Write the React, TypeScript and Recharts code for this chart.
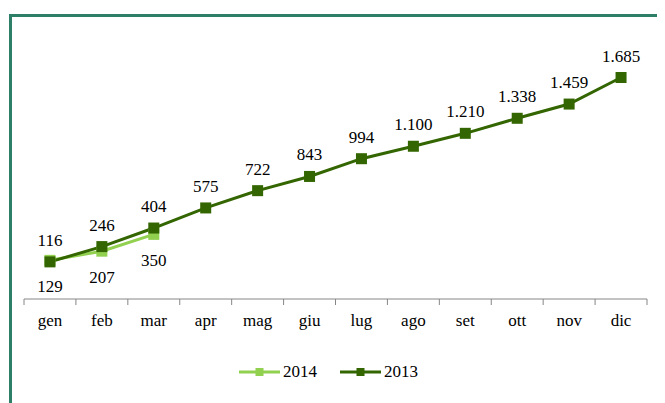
import React from 'react';
import { LineChart, Line, XAxis, YAxis, Legend, LabelList } from 'recharts';

const months = ['gen', 'feb', 'mar', 'apr', 'mag', 'giu', 'lug', 'ago', 'set', 'ott', 'nov', 'dic'];
const values2013 = [116, 246, 404, 575, 722, 843, 994, 1100, 1210, 1338, 1459, 1685];
const values2014 = [129, 207, 350];
const seriesNames = ['2014', '2013'];

const data = months.map((m, i) => ({
  month: m,
  y2014: values2014[i] ?? null,
  y2013: values2013[i],
}));

const DARK = '#336600';
const LIGHT = '#92D050';
const FONT = '"Liberation Serif", "Times New Roman", Times, serif';
const AXIS = '#868686';

const fmt = (v: any) => {
  if (v === null || v === undefined) return '';
  return String(v).replace(/\B(?=(\d{3})+(?!\d))/g, '.');
};

const makeDot = (color: string) => (props: any) => {
  const { cx, cy, index } = props;
  if (cx == null || cy == null) return <g key={`d-${color}-${index}`} />;
  return <rect key={`d-${color}-${index}`} x={cx - 5.5} y={cy - 5.5} width={11} height={11} fill={color} />;
};

const makeLabel = (where: 'top' | 'bottom') => (props: any) => {
  const { x, y, value, index } = props;
  if (value === null || value === undefined || x == null || y == null) return <g key={`l-${where}-${index}`} />;
  const ty = where === 'top' ? y - 16 : y + 32;
  return (
    <text
      key={`l-${where}-${index}`}
      x={x}
      y={ty}
      textAnchor="middle"
      fill="#000"
      style={{ fontFamily: FONT, fontSize: 17 }}
    >
      {fmt(value)}
    </text>
  );
};

const MonthTick = (props: any) => {
  const { x, y, payload, index } = props;
  const half = payload && payload.offset ? payload.offset : 26;
  return (
    <g>
      <line x1={x - half} x2={x - half} y1={y} y2={y + 6} stroke={AXIS} strokeWidth={1} />
      {index === months.length - 1 && (
        <line x1={x + half} x2={x + half} y1={y} y2={y + 6} stroke={AXIS} strokeWidth={1} />
      )}
      <text x={x} y={y + 27} textAnchor="middle" fill="#000" style={{ fontFamily: FONT, fontSize: 17 }}>
        {payload.value}
      </text>
    </g>
  );
};

const renderLegend = (props: any) => {
  const payload: any[] = props.payload || [];
  const ordered = seriesNames
    .map((n) => payload.find((p: any) => String(p.value) === n))
    .filter(Boolean);
  return (
    <div style={{ display: 'flex', alignItems: 'center', fontFamily: FONT, fontSize: 17, color: '#000', whiteSpace: 'nowrap' }}>
      {ordered.map((p: any, i: number) => (
        <div key={i} style={{ display: 'flex', alignItems: 'center', marginRight: i === 0 ? 23 : 0 }}>
          <svg width={41} height={12} style={{ display: 'block' }}>
            <line x1={0} x2={41} y1={6} y2={6} stroke={p.color} strokeWidth={3} />
            <rect x={16.5} y={2} width={8} height={8} fill={p.color} />
          </svg>
          <span style={{ marginLeft: 3, lineHeight: '20px', fontFamily: FONT }}>{p.value}</span>
        </div>
      ))}
    </div>
  );
};

export default function App() {
  return (
    <div style={{ position: 'relative', width: 657, height: 395, overflow: 'hidden', background: '#fff', fontFamily: FONT }}>
      <div
        style={{
          position: 'absolute',
          left: 1,
          top: 6,
          width: 1000,
          height: 1000,
          borderLeft: '3px solid #2E7F68',
          borderTop: '3px solid #2E7F68',
        }}
      />
      <div style={{ position: 'absolute', left: 0, top: 0 }}>
        <LineChart width={657} height={395} data={data} margin={{ top: 56, left: 16, right: 18, bottom: 64 }}>
          <XAxis
            dataKey="month"
            scale="band"
            interval={0}
            height={40}
            tickSize={0}
            tickMargin={0}
            tickLine={false}
            axisLine={{ stroke: AXIS, strokeWidth: 1 }}
            tick={<MonthTick />}
          />
          <YAxis hide domain={[-200, 1800]} />
          <Legend
            layout="horizontal"
            verticalAlign="middle"
            align="center"
            wrapperStyle={{ top: 354, left: 231, width: 'auto' }}
            content={renderLegend}
          />
          <Line
            name={seriesNames[0]}
            dataKey="y2014"
            stroke={LIGHT}
            strokeWidth={3}
            dot={makeDot(LIGHT)}
            activeDot={false}
            isAnimationActive={false}
          >
            <LabelList dataKey="y2014" content={makeLabel('bottom')} />
          </Line>
          <Line
            name={seriesNames[1]}
            dataKey="y2013"
            stroke={DARK}
            strokeWidth={3}
            dot={makeDot(DARK)}
            activeDot={false}
            isAnimationActive={false}
          >
            <LabelList dataKey="y2013" content={makeLabel('top')} />
          </Line>
        </LineChart>
      </div>
    </div>
  );
}
